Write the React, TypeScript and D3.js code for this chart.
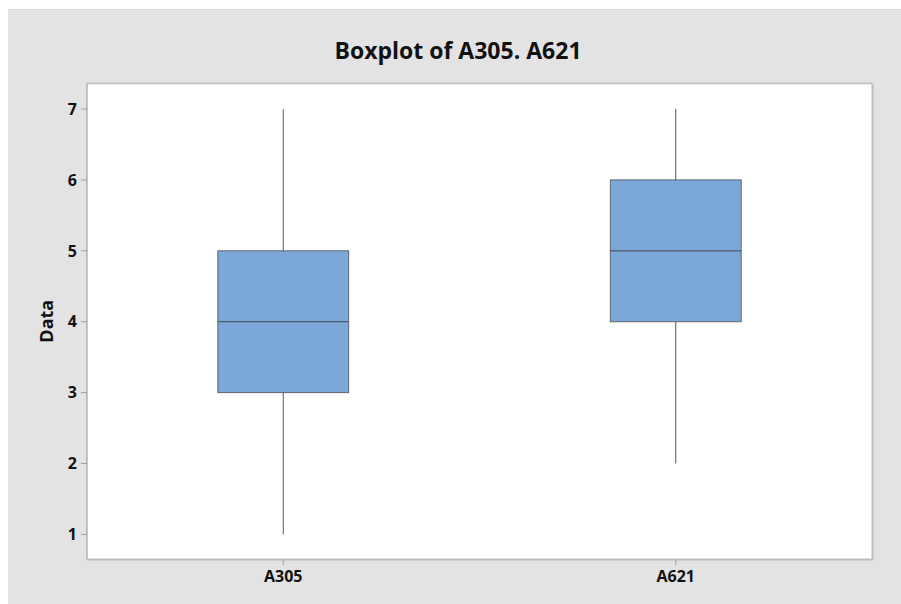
import React from "react";
import * as d3 from "d3";

const categories = ["A305", "A621"];
const mins = [1, 2];
const q1s = [3, 4];
const medians = [4, 5];
const q3s = [5, 6];
const maxs = [7, 7];
const yTicks = [1, 2, 3, 4, 5, 6, 7];
const title = "Boxplot of A305. A621";
const yLabel = "Data";

const W = 901, H = 604;
const plot = { left: 87, right: 872, top: 83.5, bottom: 559 };
const font = "'Open Sans', 'Noto Sans', sans-serif";

export default function App() {
  const x = d3.scaleBand<string>().domain(categories).range([plot.left, plot.right]).padding(0);
  const y = d3.scaleLinear().domain([0.653, 7.36]).range([plot.bottom, plot.top]);
  const bw = x.bandwidth() / 3;

  return (
    <svg
      viewBox={`0 0 ${W} ${H}`}
      preserveAspectRatio="none"
      style={{ position: "fixed", left: 0, top: 0, width: "100vw", height: "100vh", display: "block" }}
    >
      <rect x={0} y={0} width={W} height={H} fill="#fff" />
      <rect x={8} y={10} width={W - 8} height={H - 10} fill="#e3e3e3" />
      <line x1={8} x2={W} y1={9.5} y2={9.5} stroke="#d8d8d8" />
      <rect x={plot.left} y={plot.top} width={plot.right - plot.left} height={plot.bottom - plot.top} fill="#fff" />
      <line x1={plot.right + 0.5} x2={plot.right + 0.5} y1={plot.top} y2={plot.bottom + 1} stroke="#bdbdbd" strokeWidth={2} />
      <line x1={plot.left} x2={plot.right + 1} y1={plot.bottom + 0.5} y2={plot.bottom + 0.5} stroke="#bdbdbd" strokeWidth={2} />
      <line x1={plot.left} x2={plot.right} y1={plot.top} y2={plot.top} stroke="#bdbdbd" strokeWidth={1.5} />
      <line x1={plot.left} x2={plot.left} y1={plot.top} y2={plot.bottom} stroke="#a0a0a0" strokeWidth={1.2} />

      <text x={458} y={59} textAnchor="middle" fontFamily={font} fontWeight="bold" fontSize={23} fill="#111">{title}</text>

      {yTicks.map((t) => (
        <g key={t}>
          <line x1={plot.left - 6} x2={plot.left} y1={y(t)} y2={y(t)} stroke="#a0a0a0" />
          <text x={77} y={y(t)} dy="0.36em" textAnchor="end" fontFamily={font} fontWeight="bold" fontSize={16} fill="#111">{t}</text>
        </g>
      ))}
      <text transform={`translate(53,${(plot.top + plot.bottom) / 2}) rotate(-90)`} textAnchor="middle" fontFamily={font} fontWeight="bold" fontSize={18} fill="#111">{yLabel}</text>

      {categories.map((c) => {
        const cx = (x(c) as number) + x.bandwidth() / 2;
        return (
          <g key={c}>
            <line x1={cx} x2={cx} y1={plot.bottom} y2={plot.bottom + 6} stroke="#a0a0a0" />
            <text x={cx} y={582} textAnchor="middle" fontFamily={font} fontWeight="bold" fontSize={16} fill="#111">{c}</text>
          </g>
        );
      })}

      {categories.map((c, i) => {
        const cx = (x(c) as number) + x.bandwidth() / 2;
        return (
          <g key={c}>
            <line x1={cx} x2={cx} y1={y(maxs[i])} y2={y(q3s[i])} stroke="#555" strokeWidth={1} />
            <line x1={cx} x2={cx} y1={y(q1s[i])} y2={y(mins[i])} stroke="#555" strokeWidth={1} />
            <rect x={cx - bw / 2} y={y(q3s[i])} width={bw} height={y(q1s[i]) - y(q3s[i])} fill="#7ba7d9" stroke="#5c6470" strokeWidth={1} />
            <line x1={cx - bw / 2} x2={cx + bw / 2} y1={y(medians[i])} y2={y(medians[i])} stroke="#4f5a6a" strokeWidth={1.2} />
          </g>
        );
      })}
    </svg>
  );
}
